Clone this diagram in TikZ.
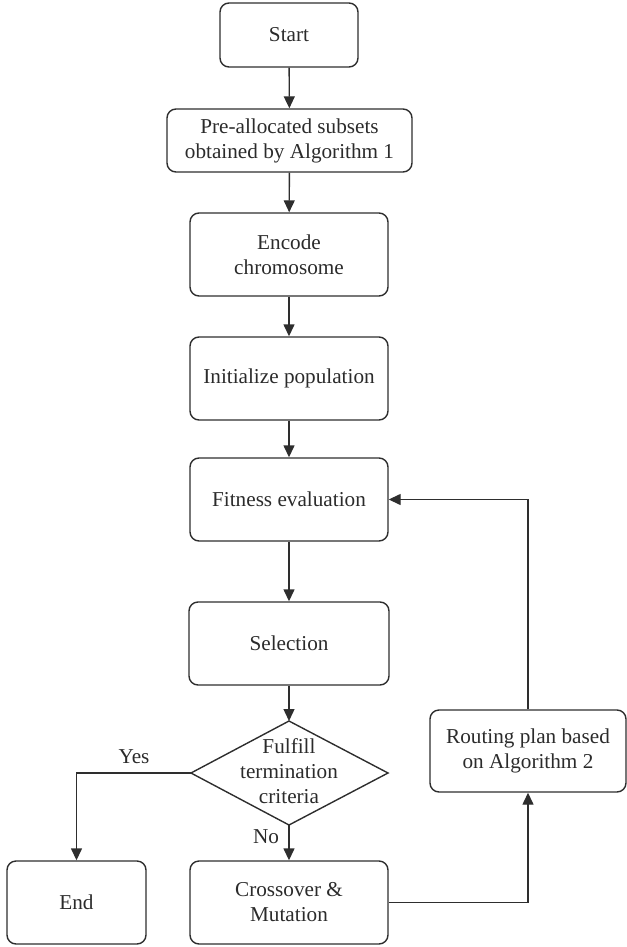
\documentclass[tikz,border=0pt]{standalone}
\usepackage{fontspec}
\setmainfont{Liberation Serif}
\usetikzlibrary{arrows.meta}
\definecolor{ln}{HTML}{2E2E2E}
\definecolor{tx}{HTML}{2B2B2B}
\begin{document}
\begin{tikzpicture}[x=1pt,y=-1pt,
  box/.style={draw=ln,line width=1.4pt,rounded corners=9pt,align=center,
    text=tx,font=\fontsize{21.2}{25}\selectfont,inner sep=0pt},
  lbl/.style={text=tx,font=\fontsize{21.2}{25}\selectfont,inner sep=0pt},
  arr/.style={draw=ln,line width=1.4pt,-{Triangle[length=12pt,width=11pt]}},
  con/.style={draw=ln,line width=1.4pt}]
\useasboundingbox (0,0) rectangle (626,947);
\node[box,minimum width=138,minimum height=64] (start) at (289,35) {Start};
\node[box,minimum width=245,minimum height=63] (pre) at (289.5,140.5) {Pre-allocated subsets\\obtained by Algorithm 1};
\node[box,minimum width=198,minimum height=83] (enc) at (289,254.5) {Encode\\chromosome};
\node[box,minimum width=198,minimum height=83] (init) at (289,378.5) {Initialize population};
\node[box,minimum width=198,minimum height=83] (fit) at (289,499.5) {Fitness evaluation};
\node[box,minimum width=200,minimum height=83] (sel) at (289,643.5) {Selection};
% diamond
\coordinate (dT) at (289,721);
\coordinate (dL) at (191,773);
\coordinate (dR) at (388,773);
\coordinate (dB) at (289,825);
\draw[con,line join=miter] (dT) -- (dR) -- (dB) -- (dL) -- cycle;
\node[lbl,align=center] (dtext) at (289,771) {Fulfill\\termination\\criteria};
\node[box,minimum width=139,minimum height=83] (end) at (76.5,902.5) {End};
\node[box,minimum width=198,minimum height=83] (cross) at (289,902.5) {Crossover \&\\Mutation};
\node[box,minimum width=196,minimum height=82] (route) at (528,751) {Routing plan based\\on Algorithm 2};
% connectors
\draw[arr] (start) -- (pre);
\draw[arr] (pre) -- (enc);
\draw[arr] (enc) -- (init);
\draw[arr] (init) -- (fit);
\draw[arr] (fit) -- (sel);
\draw[arr] (sel) -- (dT);
\draw[arr] (dL) -| (end.north);
\draw[arr] (dB) -- (cross);
\draw[arr] (cross.east) -| (route.south);
\draw[arr] (route.north) |- (fit.east);
\node[lbl] (yes) at (134,757) {Yes};
\node[lbl] (no) at (266,837) {No};
\end{tikzpicture}
\end{document}
